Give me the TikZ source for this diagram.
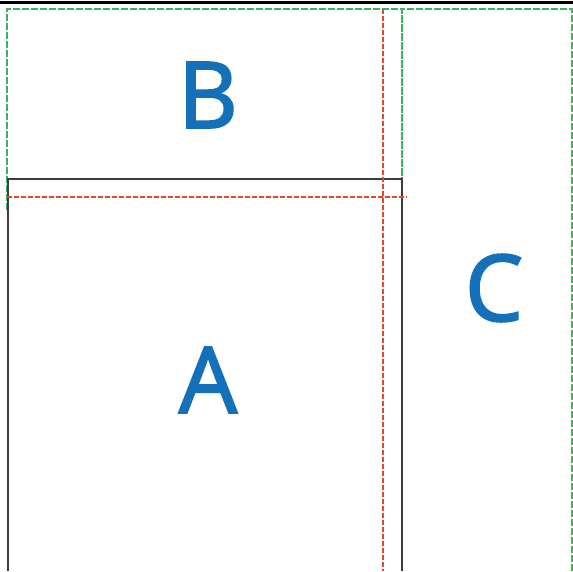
\documentclass[tikz,border=0pt]{standalone}
\usepackage{fontspec}
\setmainfont{Open Sans}
\newfontfamily\lblfont{Open Sans}[FakeBold=2.2]
\definecolor{gline}{RGB}{60,180,90}
\definecolor{rline}{RGB}{230,70,40}
\definecolor{kline}{RGB}{60,60,60}
\definecolor{lblue}{RGB}{21,112,186}
\begin{document}
\begin{tikzpicture}[x=1pt,y=1pt,
  greenbox/.style={color=gline, dash pattern=on 7pt off 2pt, line width=1.6pt},
  blackbox/.style={color=kline, line width=1.6pt},
  redline/.style={color=rline, dash pattern=on 5pt off 2pt, line width=1.5pt},
  lbl/.style={text=lblue, font=\lblfont\fontsize{92}{92}\selectfont}]
\useasboundingbox (0,0) rectangle (573,571);
\fill[white] (0,0) rectangle (573,571);
\draw[line width=3pt] (0,568) -- (573,568);
% B box
\draw[greenbox] (7,361) -- (7,562) -- (402,562) -- (402,395);
% C box
\draw[greenbox] (402,0) -- (402,562) -- (572,562) -- (572,0);
% A box
\draw[blackbox] (8,0) -- (8,392) -- (402,392) -- (402,0);
% red lines
\draw[redline] (7,374) -- (407,374);
\draw[redline] (383,562) -- (383,0);
\node[lbl] (B) at (208,476) {B};
\node[lbl] (A) at (208,191) {A};
\node[lbl] (C) at (494,283) {C};
\end{tikzpicture}
\end{document}
